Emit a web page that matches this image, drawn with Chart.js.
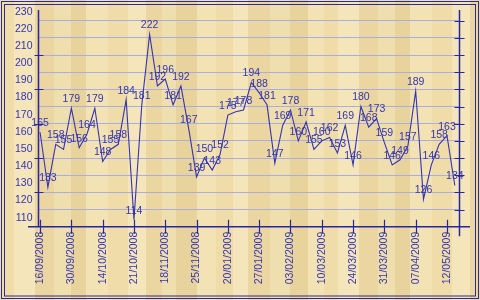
<!DOCTYPE html>
<html><head><meta charset="utf-8">
<script src="https://cdn.jsdelivr.net/npm/chart.js@4/dist/chart.umd.min.js"></script>
<style>html,body{margin:0;padding:0;background:#EEDAA6}#wrap{width:480px;height:300px}</style>
</head><body><div id="wrap"><canvas id="c" width="480" height="300"></canvas></div>
<script>
// ---- data ----
const values = [165,133,158,155,179,156,164,179,148,155,158,184,114,181,222,192,196,181,192,167,139,150,143,152,175,177,178,194,188,181,147,169,178,160,171,155,160,162,153,169,146,180,168,173,159,146,149,157,189,126,146,158,163,134];
const tickLabels = ["16/09/2008","30/09/2008","14/10/2008","21/10/2008","18/11/2008","25/11/2008","20/01/2009","27/01/2009","03/02/2009","10/03/2009","24/03/2009","31/03/2009","07/04/2009","12/05/2009"];
const tickEvery = 4;
const yMin = 110, yMax = 230, yStep = 10;

const BLUE = '#3434B0';
const AXIS = '#2626A0';
const FONT = '"Liberation Sans", Arial, sans-serif';

const bgPlugin = {
  id: 'bg',
  beforeDraw(chart) {
    const c = chart.ctx;
    c.save();
    c.fillStyle = '#EEDAA6';
    c.fillRect(0, 0, chart.width, chart.height);
    const shades = ['#EFDCA9', '#F2E2B4', '#E9D39D', '#F0DFAE', '#EBD6A2', '#F4E5BA'];
    for (let i = 0, x = 0; x < chart.width; i++) {
      const w = 14 + (i * 7) % 9;
      c.fillStyle = shades[(i * 5) % shades.length];
      c.fillRect(x, 0, w, chart.height);
      x += w;
    }
    c.restore();
  }
};

const labelPlugin = {
  id: 'ptLabels',
  afterDatasetsDraw(chart) {
    const c = chart.ctx;
    const meta = chart.getDatasetMeta(0);
    c.save();
    c.font = '10.5px ' + FONT;
    c.fillStyle = BLUE;
    c.textAlign = 'center';
    c.textBaseline = 'middle';
    meta.data.forEach((pt, i) => {
      c.fillText(String(values[i]), pt.x, pt.y - 9);
    });
    c.restore();
  }
};

const axesPlugin = {
  id: 'axesDeco',
  afterDraw(chart) {
    const c = chart.ctx;
    const a = chart.chartArea;
    const ys = chart.scales.y, xs = chart.scales.x;
    c.save();
    c.strokeStyle = AXIS;
    c.lineWidth = 1.5;
    c.beginPath();
    c.moveTo(a.left, 10); c.lineTo(a.left, a.bottom);
    c.moveTo(a.right, 10); c.lineTo(a.right, a.bottom + 9.5);
    c.moveTo(28, a.bottom); c.lineTo(470, a.bottom);
    c.stroke();
    c.lineWidth = 1.2;
    c.beginPath();
    for (let v = yMin + 2 * yStep; v < yMax; v += 2 * yStep) {
      const y = Math.round(ys.getPixelForValue(v)) + 0.5;
      c.moveTo(a.left - 4, y); c.lineTo(a.left + 5, y);
    }
    for (let v = yMin + yStep; v <= yMax; v += yStep) {
      const y = Math.round(ys.getPixelForValue(v)) + 0.5;
      c.moveTo(a.right - 5, y); c.lineTo(a.right + 5, y);
    }
    xs.ticks.forEach(t => {
      const x = Math.round(xs.getPixelForValue(t.value)) + 0.5;
      c.moveTo(x, a.bottom - 7); c.lineTo(x, a.bottom + 7);
    });
    c.stroke();
    c.lineWidth = 1;
    c.strokeStyle = '#2A2A9A';
    c.strokeRect(1.5, 1.5, 477, 297);
    c.strokeRect(4.5, 4.5, 471, 291.5);
    c.restore();
  }
};

new Chart(document.getElementById('c'), {
  type: 'line',
  data: {
    datasets: [{
      data: values.map((v, i) => ({ x: i, y: v })),
      borderColor: BLUE,
      borderWidth: 1.1,
      pointRadius: 0,
      tension: 0,
      fill: false
    }]
  },
  options: {
    responsive: false,
    animation: false,
    devicePixelRatio: 1,
    layout: { padding: { left: 0, right: 20.5, top: 20.7, bottom: 0 } },
    plugins: { legend: { display: false }, tooltip: { enabled: false } },
    scales: {
      x: {
        type: 'linear',
        min: -0.2,
        max: 53.6,
        afterFit(s) { s.height = 73.3; },
        afterBuildTicks(s) { s.ticks = tickLabels.map((_, i) => ({ value: i * tickEvery })); },
        grid: { display: false, drawTicks: false },
        border: { display: false },
        ticks: {
          autoSkip: false,
          minRotation: 90,
          maxRotation: 90,
          padding: 5,
          color: BLUE,
          font: { family: FONT, size: 10.5 },
          callback: (v) => tickLabels[Math.round(v / tickEvery)] || ''
        }
      },
      y: {
        min: yMin,
        max: yMax,
        afterFit(s) { s.width = 38.5; },
        grid: { color: '#A9AEDC', lineWidth: 1, drawTicks: false },
        border: { display: false },
        ticks: {
          stepSize: yStep,
          padding: 6,
          labelOffset: -9,
          color: BLUE,
          font: { family: FONT, size: 10.5 }
        }
      }
    }
  },
  plugins: [bgPlugin, labelPlugin, axesPlugin]
});
</script>
</body></html>
